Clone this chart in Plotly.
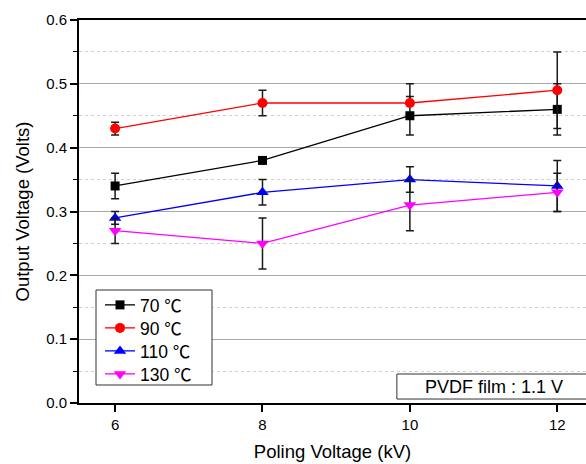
import plotly.graph_objects as go

poling_kv = [6, 8, 10, 12]
series_names = ["70 \u2103", "90 \u2103", "110 \u2103", "130 \u2103"]
v70 = [0.34, 0.38, 0.45, 0.46]
v90 = [0.43, 0.47, 0.47, 0.49]
v110 = [0.29, 0.33, 0.35, 0.34]
v130 = [0.27, 0.25, 0.31, 0.33]
e70_plus = [0.02, 0.0, 0.03, 0.04]
e70_minus = [0.02, 0.0, 0.03, 0.04]
e90_plus = [0.01, 0.02, 0.03, 0.06]
e90_minus = [0.01, 0.02, 0.0, 0.06]
e110_plus = [0.01, 0.02, 0.02, 0.04]
e110_minus = [0.01, 0.02, 0.02, 0.04]
e130_plus = [0.02, 0.04, 0.04, 0.03]
e130_minus = [0.02, 0.04, 0.04, 0.03]
y_ticks = [0.0, 0.1, 0.2, 0.3, 0.4, 0.5, 0.6]
y_ticktext = ["0.0", "0.1", "0.2", "0.3", "0.4", "0.5", "0.6"]

colors = ["#000000", "#ff0000", "#0000ff", "#ff00ff"]
symbols = ["square", "circle", "triangle-up", "triangle-down"]
sizes = [9, 10, 11, 11]
values = [v70, v90, v110, v130]
eplus = [e70_plus, e90_plus, e110_plus, e130_plus]
eminus = [e70_minus, e90_minus, e110_minus, e130_minus]
legend_ids = ["legend", "legend2", "legend3", "legend4"]
legend_rows_px = [305, 328, 351, 374]

FONT = "Liberation Sans, Arial, Noto Sans CJK SC, sans-serif"

fig = go.Figure()
for name, y, ep, em, c, s, sz, lg in zip(series_names, values, eplus, eminus, colors, symbols, sizes, legend_ids):
    fig.add_trace(go.Scatter(
        x=poling_kv, y=y, name=name, mode="lines+markers", legend=lg,
        line=dict(color=c, width=1.3),
        marker=dict(color=c, symbol=s, size=sz),
        error_y=dict(type="data", array=ep, arrayminus=em, symmetric=False,
                     color="#1a1a1a", thickness=1.5, width=4),
    ))

plot_top, plot_h, plot_left, plot_w = 20, 383, 79, 507

layout_legends = {}
for lg, row in zip(legend_ids, legend_rows_px):
    layout_legends[lg] = dict(
        x=(100 - plot_left) / plot_w, y=(plot_top + plot_h - row) / plot_h,
        xanchor="left", yanchor="middle",
        bgcolor="rgba(0,0,0,0)", borderwidth=0,
        font=dict(size=17.5, family=FONT), itemwidth=30,
    )

fig.update_layout(
    width=586, height=464,
    margin=dict(l=79, r=0, t=20, b=61),
    plot_bgcolor="white", paper_bgcolor="white",
    font=dict(family=FONT, color="#000000"),
    showlegend=True,
    **layout_legends,
)
fig.update_xaxes(
    range=[5.51, 12.39], tickvals=poling_kv, ticktext=[str(v) for v in poling_kv],
    showgrid=False, zeroline=False,
    showline=True, linecolor="#000000", linewidth=2, mirror=True,
    ticks="outside", ticklen=7, tickwidth=1.5, tickcolor="#000000",
    tickfont=dict(size=15),
    title=dict(text="Poling Voltage (kV)", font=dict(size=18.5), standoff=13),
)
fig.update_yaxes(
    range=[0, 0.6], tickvals=y_ticks, ticktext=y_ticktext,
    showgrid=True, gridcolor="#a8a8a8", gridwidth=1, zeroline=False,
    showline=True, linecolor="#000000", linewidth=2,
    ticks="outside", ticklen=7, tickwidth=1.5, tickcolor="#000000",
    tickfont=dict(size=15),
    minor=dict(dtick=0.05, tick0=0.05, ticks="outside", ticklen=4, tickwidth=1.2, tickcolor="#000000",
               showgrid=True, gridcolor="#d0d0d0", griddash="dot", gridwidth=1),
    title=dict(text="Output Voltage (Volts)", font=dict(size=18.5), standoff=12),
)

# legend frame
fig.add_shape(type="rect", xref="paper", yref="paper",
              x0=(96 - plot_left) / plot_w, x1=(212 - plot_left) / plot_w,
              y0=(plot_top + plot_h - 385) / plot_h, y1=(plot_top + plot_h - 290) / plot_h,
              line=dict(color="#333333", width=1), fillcolor="white")
# note box
fig.add_shape(type="rect", xref="paper", yref="paper",
              x0=0.627, x1=1.05, y0=0.0104, y1=0.0757,
              line=dict(color="#333333", width=1), fillcolor="white")
fig.add_annotation(text="PVDF film : 1.1 V", xref="paper", yref="paper",
                   x=0.8185, y=0.043, xanchor="center", yanchor="middle",
                   showarrow=False, font=dict(size=18))

fig.write_html("out.html")
